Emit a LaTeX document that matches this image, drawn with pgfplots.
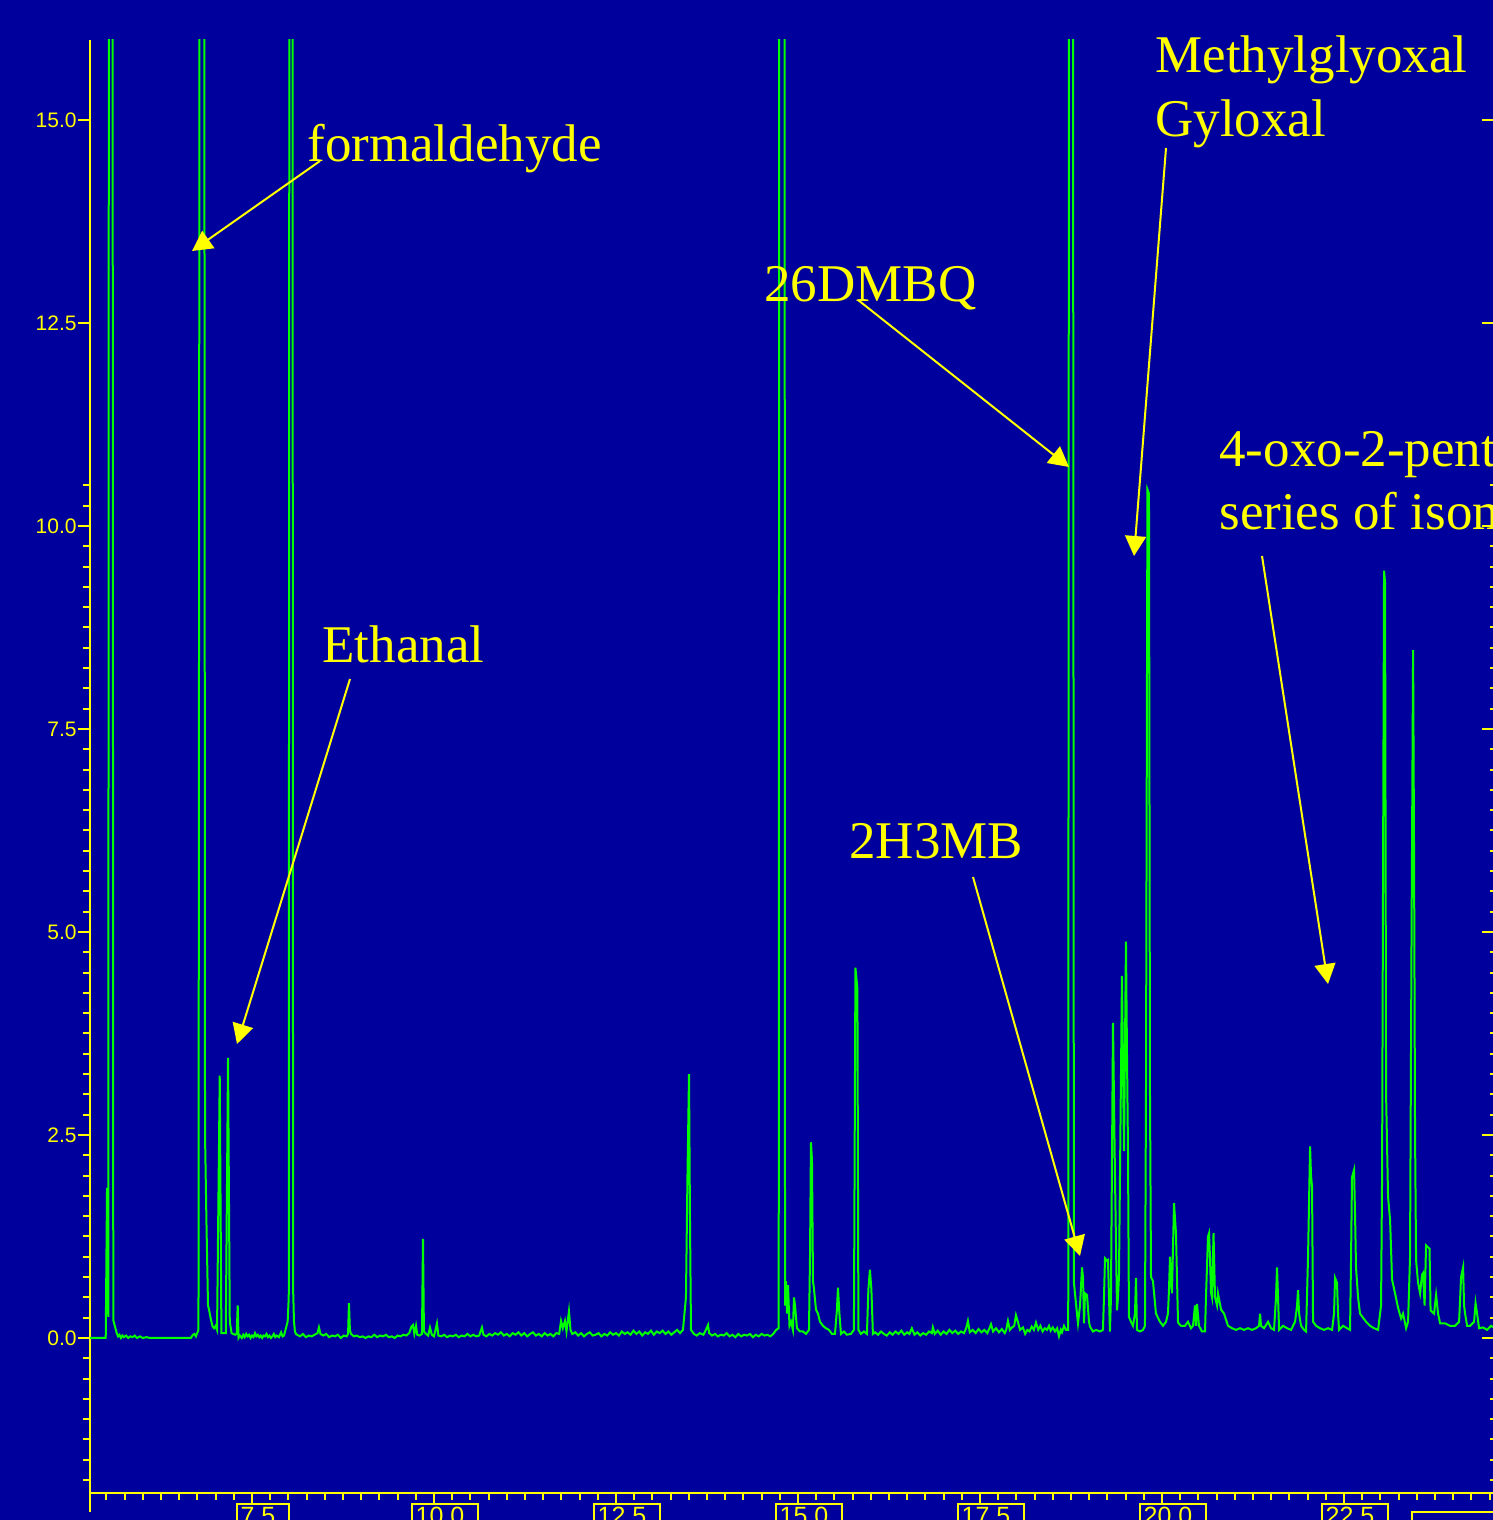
\documentclass[border=0pt]{standalone}
\usepackage{fontspec}
\setmainfont{Liberation Serif}
\newfontfamily\sansf{Liberation Sans}
\usepackage{pgfplots}
\pgfplotsset{compat=1.18}
\usetikzlibrary{arrows.meta}
\definecolor{bgblue}{RGB}{0,0,156}
\definecolor{ylw}{RGB}{255,255,0}
\definecolor{grn}{RGB}{0,255,0}
\pgfplotsset{
  base/.style={at={(45pt,13.5pt)}, anchor=south west, scale only axis,
    width=703pt, height=726.5pt, xmin=5.275, xmax=24.588, ymin=-1.909, ymax=15.985,
    /pgf/number format/assume math mode=true}
}
\begin{document}
\begin{tikzpicture}
\fill[bgblue] (0,0) rectangle (746.5pt,760pt);
\begin{axis}[base,
  axis x line*=bottom, axis y line*=left,
  axis line style={ylw, line width=1pt},
  tick align=outside,
  major tick length=6pt, minor tick length=3.3pt,
  tick style={ylw, line width=1pt},
  xtick={7.5,10,12.5,15,17.5,20,22.5},
  minor xtick={5.5,5.75,...,24.5},
  ytick={0,2.5,5,7.5,10,12.5,15},
  minor ytick={-1.75,-1.5,...,10.5},
  xticklabel={\pgfmathprintnumber[fixed,fixed zerofill,precision=1]{\tick}\rule{5.2pt}{0pt}},
  xticklabel style={font=\sansf\fontsize{12.5}{14}\selectfont, text=ylw, draw=ylw, line width=1pt,
    anchor=north, xshift=5.6pt, yshift=1pt, inner xsep=1.75pt, inner ysep=1.5pt, text depth=14pt},
  yticklabel={\pgfmathprintnumber[fixed,fixed zerofill,precision=1]{\tick}},
  yticklabel style={font=\sansf\fontsize{10.5}{12}\selectfont, text=ylw, inner xsep=0.5pt},
]
\addplot[grn, line width=1pt] coordinates {
(5.275,0)(5.491,0)(5.509,1.85)(5.526,0.26)(5.545,40)(5.572,40)(5.595,0.22)(5.642,0.06)(5.66,0.02)(5.68,0.04)(5.70,0.0)(5.72,0.03)(5.74,0.01)(5.77,0.03)(5.80,0.0)(5.83,0.02)(5.86,0.01)(5.89,0.03)(5.92,0.0)(5.96,0.02)(6.00,0.0)(6.05,0.01)(6.10,0)(6.66,0)(6.69,0.04)(6.71,0.05)(6.73,0.02)(6.765,0.1)(6.800,40)(6.830,40)(6.855,2.5)(6.875,1.4)(6.896,0.4)(6.91,0.35)(6.937,0.22)(6.96,0.14)(6.978,0.12)(7.00,0.15)(7.020,0.1)(7.057,3.23)(7.080,0.06)(7.140,0.06)(7.171,3.45)(7.195,0.2)(7.22,0.06)(7.239,0.05)(7.27,0.04)(7.29,0.05)(7.304,0.4)(7.315,0.0)(7.335,0.03)(7.36,0.0)(7.38,0.04)(7.40,0.01)(7.42,0.05)(7.44,0.02)(7.46,0.04)(7.48,0.0)(7.50,0.03)(7.52,0.01)(7.541,0.06)(7.56,0.02)(7.58,0.04)(7.60,0.01)(7.62,0.03)(7.64,0.0)(7.66,0.03)(7.68,0.02)(7.70,0.05)(7.72,0.01)(7.74,0.03)(7.76,0.0)(7.78,0.02)(7.80,0.05)(7.82,0.01)(7.84,0.03)(7.87,0.01)(7.90,0.07)(7.92,0.02)(7.94,0.03)(7.96,0.1)(7.990,0.2)(8.005,0.5)(8.025,40)(8.045,40)(8.065,0.6)(8.077,0.2)(8.09,0.08)(8.104,0.05)
(8.12,0.04)(8.16,0.02)(8.20,0.05)(8.24,0.01)(8.28,0.03)(8.32,0.02)(8.36,0.04)(8.40,0.06)(8.42,0.13)(8.44,0.05)(8.48,0.03)(8.52,0.05)(8.56,0.01)(8.60,0.03)(8.64,0.02)(8.68,0.04)(8.72,0.0)(8.76,0.03)(8.80,0.02)(8.82,0.05)(8.832,0.43)(8.845,0.1)(8.86,0.05)(8.90,0.02)(8.94,0.03)(8.98,0.01)(9.02,0.02)(9.06,0.0)(9.10,0.02)(9.14,0.01)(9.18,0.04)(9.22,0.01)(9.26,0.03)(9.30,0.02)(9.34,0.04)(9.38,0.01)(9.42,0.02)(9.46,0.0)(9.50,0.03)(9.54,0.02)(9.58,0.04)(9.62,0.03)(9.66,0.06)(9.69,0.14)(9.711,0.16)(9.73,0.05)(9.753,0.15)(9.77,0.04)(9.80,0.03)(9.835,0.05)(9.849,1.22)(9.862,0.08)(9.89,0.05)(9.92,0.03)(9.945,0.13)(9.97,0.04)(10.00,0.02)(10.041,0.18)(10.06,0.03)(10.10,0.02)(10.14,0.04)(10.18,0.01)(10.22,0.03)(10.26,0.02)(10.30,0.04)(10.34,0.01)(10.38,0.03)(10.42,0.02)(10.46,0.05)(10.50,0.02)(10.54,0.04)(10.58,0.02)(10.62,0.03)(10.659,0.13)(10.68,0.04)(10.72,0.02)(10.76,0.05)(10.80,0.03)(10.84,0.06)(10.88,0.04)(10.92,0.07)(10.96,0.03)(11.00,0.05)(11.04,0.02)(11.08,0.06)(11.12,0.04)(11.16,0.07)(11.20,0.03)(11.24,0.06)(11.28,0.02)(11.32,0.05)(11.36,0.07)(11.40,0.03)(11.44,0.05)(11.48,0.02)(11.52,0.06)(11.56,0.03)(11.60,0.05)(11.64,0.02)(11.68,0.06)(11.72,0.05)(11.745,0.21)(11.77,0.12)(11.799,0.21)(11.82,0.08)(11.854,0.33)(11.875,0.1)(11.90,0.05)(11.94,0.07)(11.98,0.03)(12.02,0.06)(12.06,0.02)(12.10,0.05)(12.14,0.07)(12.18,0.03)(12.22,0.04)(12.26,0.06)(12.30,0.02)(12.34,0.05)(12.38,0.03)(12.42,0.07)(12.46,0.04)(12.50,0.06)(12.54,0.03)(12.58,0.08)(12.62,0.05)(12.66,0.07)(12.70,0.04)(12.74,0.09)(12.78,0.05)(12.82,0.08)(12.86,0.03)(12.90,0.07)(12.94,0.05)(12.98,0.09)(13.02,0.04)(13.06,0.08)(13.10,0.06)(13.14,0.09)(13.18,0.05)(13.22,0.08)(13.26,0.04)(13.30,0.07)(13.34,0.1)(13.38,0.06)(13.42,0.1)(13.461,0.5)(13.482,2.0)(13.503,3.25)(13.516,1.5)(13.530,0.1)(13.571,0.05)(13.61,0.03)(13.65,0.06)(13.70,0.04)(13.73,0.09)(13.764,0.16)(13.78,0.06)(13.82,0.03)(13.86,0.05)(13.90,0.02)(13.94,0.04)(13.98,0.03)(14.02,0.06)(14.06,0.02)(14.10,0.04)(14.14,0.01)(14.18,0.05)(14.22,0.02)(14.26,0.04)(14.30,0.03)(14.34,0.05)(14.38,0.01)(14.42,0.04)(14.46,0.02)(14.50,0.05)(14.54,0.03)(14.58,0.04)(14.62,0.02)(14.66,0.05)(14.70,0.1)(14.735,0.12)(14.753,40)(14.808,40)(14.822,0.4)(14.835,0.7)(14.849,0.3)(14.863,0.65)(14.883,0.15)(14.904,0.2)(14.93,0.1)(14.945,0.5)(14.959,0.4)(14.986,0.12)(15.027,0.08)(15.068,0.08)(15.11,0.05)(15.151,0.1)(15.165,1.0)(15.178,2.41)(15.192,2.2)(15.206,0.7)(15.220,0.6)(15.247,0.35)(15.274,0.3)(15.302,0.2)(15.343,0.15)(15.384,0.12)(15.425,0.1)(15.467,0.05)(15.508,0.05)(15.535,0.35)(15.549,0.62)(15.569,0.3)(15.590,0.05)(15.631,0.08)(15.672,0.04)(15.727,0.05)(15.768,0.1)(15.789,4.56)(15.816,4.3)(15.830,0.1)(15.864,0.05)(15.906,0.08)(15.947,0.05)(15.967,0.6)(15.988,0.84)(16.008,0.6)(16.029,0.05)
(16.06,0.07)(16.10,0.04)(16.14,0.08)(16.18,0.05)(16.22,0.03)(16.26,0.07)(16.30,0.04)(16.34,0.08)(16.38,0.05)(16.42,0.09)(16.46,0.04)(16.50,0.07)(16.53,0.05)(16.564,0.12)(16.60,0.04)(16.64,0.07)(16.68,0.03)(16.72,0.06)(16.76,0.04)(16.80,0.08)(16.84,0.06)(16.853,0.13)(16.88,0.05)(16.92,0.09)(16.96,0.04)(17.00,0.08)(17.04,0.05)(17.08,0.1)(17.12,0.06)(17.16,0.09)(17.20,0.05)(17.24,0.08)(17.28,0.06)(17.31,0.12)(17.334,0.21)(17.36,0.07)(17.40,0.1)(17.44,0.06)(17.48,0.11)(17.52,0.07)(17.56,0.1)(17.60,0.06)(17.63,0.12)(17.651,0.17)(17.68,0.08)(17.72,0.12)(17.76,0.07)(17.80,0.11)(17.84,0.06)(17.86,0.1)(17.884,0.21)(17.91,0.1)(17.94,0.13)(17.97,0.15)(17.994,0.28)(18.02,0.2)(18.05,0.1)(18.09,0.13)(18.12,0.05)(18.15,0.1)(18.18,0.08)(18.21,0.14)(18.24,0.1)(18.269,0.19)(18.30,0.1)(18.33,0.15)(18.36,0.08)(18.39,0.12)(18.42,0.1)(18.448,0.15)(18.47,0.09)(18.50,0.13)(18.53,0.08)(18.56,0.12)(18.585,0.02)(18.61,0.1)(18.626,0.07)(18.654,0.15)(18.681,0.1)(18.712,0.1)
(18.735,40)(18.760,40)(18.790,0.68)(18.832,0.3)(18.846,0.18)(18.874,0.4)(18.901,0.87)(18.915,0.75)(18.929,0.18)(18.942,0.55)(18.970,0.53)(18.997,0.2)(19.011,0.14)(19.052,0.08)(19.093,0.1)(19.148,0.08)(19.189,0.1)(19.203,0.5)(19.217,0.98)(19.244,0.95)(19.258,0.96)(19.272,0.5)(19.285,0.08)(19.299,0.5)(19.327,3.88)(19.354,2.0)(19.382,0.34)(19.395,0.5)(19.409,0.76)(19.423,2.0)(19.450,4.46)(19.478,2.3)(19.505,4.88)(19.519,3.5)(19.533,2.3)(19.546,0.26)(19.574,0.2)(19.601,0.15)(19.629,0.3)(19.643,0.74)(19.656,0.1)(19.697,0.08)(19.739,0.1)(19.766,0.15)(19.780,3)(19.800,10.45)(19.821,10.4)(19.835,3)(19.849,0.75)(19.876,0.7)(19.917,0.3)(19.972,0.2)(20.014,0.15)(20.055,0.2)(20.082,0.3)(20.096,0.6)(20.110,1.0)(20.124,0.7)(20.137,0.55)(20.165,1.66)(20.192,1.29)(20.220,0.19)(20.261,0.15)(20.316,0.15)(20.357,0.2)(20.398,0.12)(20.426,0.15)(20.453,0.4)(20.467,0.15)(20.481,0.42)(20.508,0.15)(20.549,0.08)(20.591,0.08)(20.604,0.5)(20.632,1.25)(20.646,1.29)(20.659,1.0)(20.673,0.56)(20.687,0.5)(20.708,1.29)(20.728,0.5)(20.756,0.4)(20.769,0.55)(20.811,0.35)(20.852,0.3)(20.907,0.15)(20.962,0.12)(21.017,0.1)(21.072,0.12)(21.127,0.1)(21.182,0.12)(21.237,0.1)(21.292,0.12)(21.333,0.15)(21.347,0.3)(21.360,0.15)(21.402,0.12)(21.457,0.2)(21.498,0.12)(21.539,0.1)(21.566,0.5)(21.580,0.87)(21.594,0.5)(21.608,0.1)(21.663,0.15)(21.718,0.12)(21.773,0.1)(21.828,0.2)(21.855,0.4)(21.869,0.59)(21.883,0.3)(21.910,0.15)(21.951,0.1)(21.979,0.08)(22.006,1.0)(22.034,2.36)(22.047,2.0)(22.061,1.86)(22.075,0.2)(22.116,0.15)(22.171,0.12)(22.226,0.1)(22.281,0.12)(22.336,0.1)(22.363,0.3)(22.377,0.74)(22.404,0.68)(22.418,0.3)(22.432,0.1)(22.487,0.15)(22.542,0.12)(22.583,0.1)(22.597,1.0)(22.610,1.98)(22.638,2.07)(22.652,1.5)(22.665,0.87)(22.693,0.5)(22.720,0.3)(22.761,0.25)(22.803,0.2)(22.858,0.15)(22.913,0.12)(22.968,0.1)(23.009,0.4)(23.023,2.0)(23.050,9.45)(23.064,9.3)(23.078,3.0)(23.105,1.74)(23.133,1.45)(23.160,0.72)(23.201,0.55)(23.243,0.37)(23.284,0.24)(23.311,0.3)(23.353,0.12)(23.380,0.2)(23.407,1.0)(23.428,5.0)(23.449,8.47)(23.462,6.0)(23.476,2.5)(23.490,0.96)(23.517,0.68)(23.545,0.55)(23.572,0.78)(23.586,0.8)(23.607,0.4)(23.627,1.14)(23.675,1.1)(23.689,0.34)(23.737,0.3)(23.765,0.53)(23.792,0.3)(23.820,0.18)(23.888,0.18)(23.957,0.15)(24.026,0.15)(24.081,0.2)(24.108,0.75)(24.136,0.87)(24.149,0.4)(24.163,0.3)(24.191,0.15)(24.232,0.15)(24.287,0.2)(24.307,0.43)(24.328,0.3)(24.355,0.12)(24.410,0.13)(24.465,0.1)(24.520,0.15)(24.575,0.12)
};
\end{axis}
% black minor ticks on the upper left
\begin{axis}[base, hide x axis, axis y line*=left, axis line style={draw=none},
  ytick=\empty, minor ytick={10.75,11,...,15.75}, tick align=outside,
  minor tick length=3.3pt, minor tick style={black, line width=1pt}]
\end{axis}
% right axis ticks
\begin{axis}[base, hide x axis, axis y line*=right, axis line style={draw=none},
  ytick={0,2.5,5,7.5,10,12.5,15}, yticklabels={}, tick align=inside,
  major tick length=7pt, minor tick length=3pt,
  minor ytick={-1.75,-1.5,...,10.5}, tick style={ylw, line width=1pt}]
\end{axis}
\begin{scope}[x=0.5pt, y=-0.5pt, yshift=760pt]
  \tikzset{lab/.style={text=ylw, font=\fontsize{26.5}{30}\selectfont, anchor=base west, inner sep=0pt},
           arr/.style={draw=ylw, line width=1pt, -{Triangle[length=10pt,width=10.5pt]}}}
  \node[lab] at (307,162) {formaldehyde};
  \node[lab] at (322,663) {Ethanal};
  \node[lab] at (764,302) {26DMBQ};
  \node[lab] at (1155,73) {Methylglyoxal};
  \node[lab] at (1155,137) {Gyloxal};
  \node[lab] at (849,859) {2H3MB};
  \node[lab] at (1219,467) {4-oxo-2-pentenal};
  \node[lab] at (1219,530) {series of isomers};
  \draw[arr] (320,161) -- (192,251);
  \draw[arr] (350,679) -- (237,1044);
  \draw[arr] (858,300) -- (1069,467);
  \draw[arr] (1166,148) -- (1134,556);
  \draw[arr] (973,877) -- (1080,1256);
  \draw[arr] (1262,556) -- (1328,984);
  \draw[ylw, line width=1pt] (90,1493) -- (90,1512);
  \draw[ylw, line width=1pt] (1412,1512) rectangle (1560,1600);
\end{scope}
\pgfresetboundingbox
\useasboundingbox (0,0) rectangle (746.5pt,760pt);
\end{tikzpicture}
\end{document}
